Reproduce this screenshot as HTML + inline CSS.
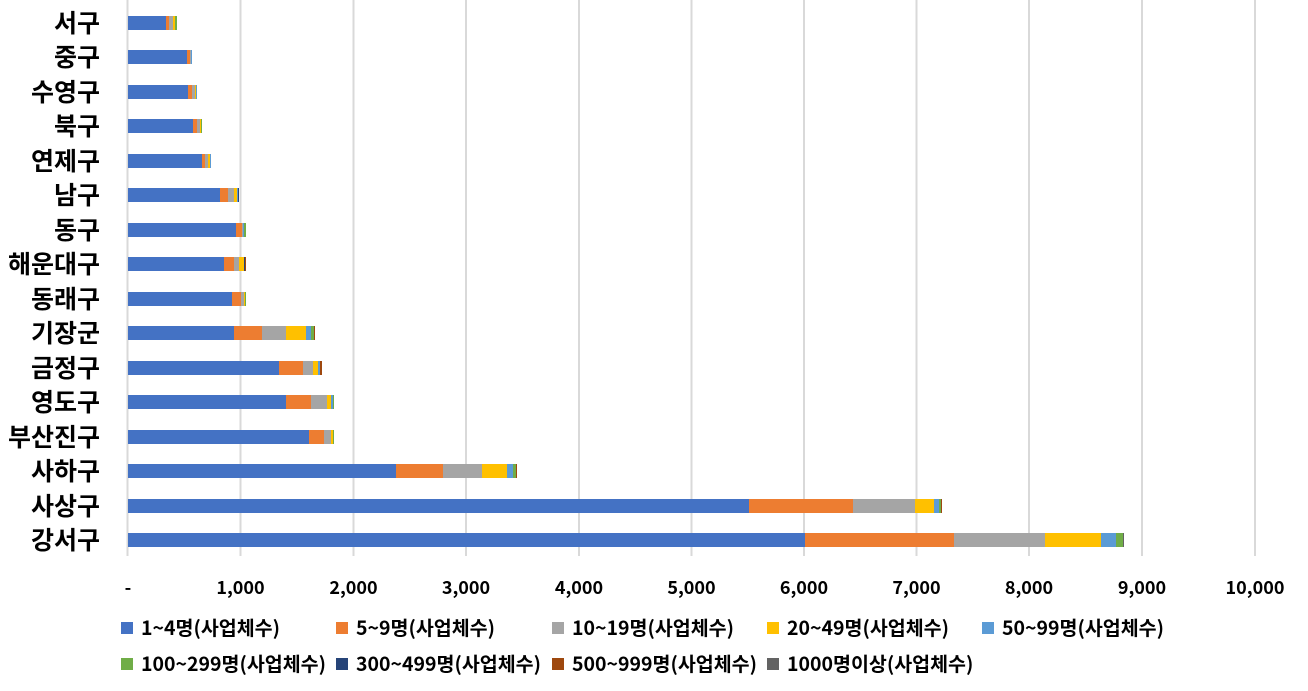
<!DOCTYPE html>
<html><head><meta charset="utf-8"><style>
html,body{margin:0;padding:0;background:#fff;}
svg{display:block;font-family:"Noto Sans CJK KR",sans-serif;}
</style></head><body>
<svg width="1308" height="691" viewBox="0 0 1308 691" xmlns="http://www.w3.org/2000/svg">
<g stroke="#d9d9d9" stroke-width="2">
<line x1="127.5" y1="0" x2="127.5" y2="556"/>
<line x1="240.5" y1="0" x2="240.5" y2="556"/>
<line x1="353.5" y1="0" x2="353.5" y2="556"/>
<line x1="466" y1="0" x2="466" y2="556"/>
<line x1="579" y1="0" x2="579" y2="556"/>
<line x1="691.5" y1="0" x2="691.5" y2="556"/>
<line x1="804" y1="0" x2="804" y2="556"/>
<line x1="916.5" y1="0" x2="916.5" y2="556"/>
<line x1="1029" y1="0" x2="1029" y2="556"/>
<line x1="1142" y1="0" x2="1142" y2="556"/>
<line x1="1255" y1="0" x2="1255" y2="556"/>
</g>
<g>
<rect x="128" y="16" width="38" height="14" fill="#4472c4"/><rect x="166" y="16" width="3" height="14" fill="#ed7d31"/><rect x="169" y="16" width="4" height="14" fill="#a5a5a5"/><rect x="173" y="16" width="2" height="14" fill="#ffc000"/><rect x="175" y="16" width="2" height="14" fill="#70ad47"/>
<rect x="128" y="50" width="59" height="14" fill="#4472c4"/><rect x="187" y="50" width="3" height="14" fill="#ed7d31"/><rect x="190" y="50" width="1" height="14" fill="#a5a5a5"/><rect x="191" y="50" width="1" height="14" fill="#5b9bd5"/>
<rect x="128" y="85" width="60" height="14" fill="#4472c4"/><rect x="188" y="85" width="4" height="14" fill="#ed7d31"/><rect x="192" y="85" width="3" height="14" fill="#a5a5a5"/><rect x="195" y="85" width="1" height="14" fill="#ffc000"/><rect x="196" y="85" width="1" height="14" fill="#5b9bd5"/>
<rect x="128" y="119" width="65" height="14" fill="#4472c4"/><rect x="193" y="119" width="4" height="14" fill="#ed7d31"/><rect x="197" y="119" width="3" height="14" fill="#a5a5a5"/><rect x="200" y="119" width="1" height="14" fill="#ffc000"/><rect x="201" y="119" width="1" height="14" fill="#70ad47"/>
<rect x="128" y="154" width="74" height="14" fill="#4472c4"/><rect x="202" y="154" width="3" height="14" fill="#ed7d31"/><rect x="205" y="154" width="3" height="14" fill="#a5a5a5"/><rect x="208" y="154" width="2" height="14" fill="#ffc000"/><rect x="210" y="154" width="1" height="14" fill="#5b9bd5"/>
<rect x="128" y="188" width="92" height="14" fill="#4472c4"/><rect x="220" y="188" width="8" height="14" fill="#ed7d31"/><rect x="228" y="188" width="6" height="14" fill="#a5a5a5"/><rect x="234" y="188" width="3" height="14" fill="#ffc000"/><rect x="237" y="188" width="1" height="14" fill="#5b9bd5"/><rect x="238" y="188" width="1" height="14" fill="#264478"/>
<rect x="128" y="223" width="108" height="14" fill="#4472c4"/><rect x="236" y="223" width="6" height="14" fill="#ed7d31"/><rect x="242" y="223" width="1" height="14" fill="#a5a5a5"/><rect x="243" y="223" width="1" height="14" fill="#5b9bd5"/><rect x="244" y="223" width="2" height="14" fill="#70ad47"/>
<rect x="128" y="257" width="96" height="14" fill="#4472c4"/><rect x="224" y="257" width="10" height="14" fill="#ed7d31"/><rect x="234" y="257" width="5" height="14" fill="#a5a5a5"/><rect x="239" y="257" width="5" height="14" fill="#ffc000"/><rect x="244" y="257" width="1" height="14" fill="#264478"/><rect x="245" y="257" width="1" height="14" fill="#9e480e"/>
<rect x="128" y="292" width="104" height="14" fill="#4472c4"/><rect x="232" y="292" width="9" height="14" fill="#ed7d31"/><rect x="241" y="292" width="3" height="14" fill="#a5a5a5"/><rect x="244" y="292" width="1" height="14" fill="#ffc000"/><rect x="245" y="292" width="1" height="14" fill="#70ad47"/>
<rect x="128" y="326" width="106" height="14" fill="#4472c4"/><rect x="234" y="326" width="28" height="14" fill="#ed7d31"/><rect x="262" y="326" width="24" height="14" fill="#a5a5a5"/><rect x="286" y="326" width="20" height="14" fill="#ffc000"/><rect x="306" y="326" width="5" height="14" fill="#5b9bd5"/><rect x="311" y="326" width="3" height="14" fill="#70ad47"/><rect x="314" y="326" width="1" height="14" fill="#9e480e"/>
<rect x="128" y="361" width="151" height="14" fill="#4472c4"/><rect x="279" y="361" width="24" height="14" fill="#ed7d31"/><rect x="303" y="361" width="10" height="14" fill="#a5a5a5"/><rect x="313" y="361" width="5" height="14" fill="#ffc000"/><rect x="318" y="361" width="2" height="14" fill="#5b9bd5"/><rect x="320" y="361" width="2" height="14" fill="#9e480e"/>
<rect x="128" y="395" width="158" height="14" fill="#4472c4"/><rect x="286" y="395" width="25" height="14" fill="#ed7d31"/><rect x="311" y="395" width="16" height="14" fill="#a5a5a5"/><rect x="327" y="395" width="4" height="14" fill="#ffc000"/><rect x="331" y="395" width="2" height="14" fill="#5b9bd5"/><rect x="333" y="395" width="1" height="14" fill="#70ad47"/>
<rect x="128" y="430" width="181" height="14" fill="#4472c4"/><rect x="309" y="430" width="15" height="14" fill="#ed7d31"/><rect x="324" y="430" width="7" height="14" fill="#a5a5a5"/><rect x="331" y="430" width="2" height="14" fill="#ffc000"/><rect x="333" y="430" width="1" height="14" fill="#70ad47"/>
<rect x="128" y="464" width="268" height="14" fill="#4472c4"/><rect x="396" y="464" width="47" height="14" fill="#ed7d31"/><rect x="443" y="464" width="39" height="14" fill="#a5a5a5"/><rect x="482" y="464" width="25" height="14" fill="#ffc000"/><rect x="507" y="464" width="6" height="14" fill="#5b9bd5"/><rect x="513" y="464" width="3" height="14" fill="#70ad47"/><rect x="516" y="464" width="1" height="14" fill="#9e480e"/>
<rect x="128" y="499" width="621" height="14" fill="#4472c4"/><rect x="749" y="499" width="104" height="14" fill="#ed7d31"/><rect x="853" y="499" width="62" height="14" fill="#a5a5a5"/><rect x="915" y="499" width="19" height="14" fill="#ffc000"/><rect x="934" y="499" width="5" height="14" fill="#5b9bd5"/><rect x="939" y="499" width="2" height="14" fill="#70ad47"/><rect x="941" y="499" width="1" height="14" fill="#9e480e"/>
<rect x="128" y="533" width="677" height="14" fill="#4472c4"/><rect x="805" y="533" width="149" height="14" fill="#ed7d31"/><rect x="954" y="533" width="91" height="14" fill="#a5a5a5"/><rect x="1045" y="533" width="56" height="14" fill="#ffc000"/><rect x="1101" y="533" width="15" height="14" fill="#5b9bd5"/><rect x="1116" y="533" width="7" height="14" fill="#70ad47"/><rect x="1123" y="533" width="1" height="14" fill="#636363"/>
</g>
<g font-size="25" font-weight="bold" text-anchor="end" fill="#000">
<text x="100" y="32">서구</text>
<text x="100" y="66">중구</text>
<text x="100" y="101">수영구</text>
<text x="100" y="135">북구</text>
<text x="100" y="170">연제구</text>
<text x="100" y="204">남구</text>
<text x="100" y="239">동구</text>
<text x="100" y="273">해운대구</text>
<text x="100" y="308">동래구</text>
<text x="100" y="342">기장군</text>
<text x="100" y="377">금정구</text>
<text x="100" y="411">영도구</text>
<text x="100" y="446">부산진구</text>
<text x="100" y="480">사하구</text>
<text x="100" y="515">사상구</text>
<text x="100" y="549">강서구</text>
</g>
<g font-size="18" font-weight="bold" text-anchor="middle" fill="#000">
<text x="128" y="594">-</text>
<text x="240.5" y="594">1,000</text>
<text x="353.5" y="594">2,000</text>
<text x="466" y="594">3,000</text>
<text x="579" y="594">4,000</text>
<text x="691.5" y="594">5,000</text>
<text x="804" y="594">6,000</text>
<text x="916.5" y="594">7,000</text>
<text x="1029" y="594">8,000</text>
<text x="1142" y="594">9,000</text>
<text x="1255" y="594">10,000</text>
</g>
<g font-size="19.5" font-weight="bold" fill="#000">
<rect x="121" y="622" width="12" height="12" fill="#4472c4"/><text x="141" y="635">1~4명(사업체수)</text>
<rect x="336" y="622" width="12" height="12" fill="#ed7d31"/><text x="356" y="635">5~9명(사업체수)</text>
<rect x="552" y="622" width="12" height="12" fill="#a5a5a5"/><text x="572" y="635">10~19명(사업체수)</text>
<rect x="767" y="622" width="12" height="12" fill="#ffc000"/><text x="787" y="635">20~49명(사업체수)</text>
<rect x="982" y="622" width="12" height="12" fill="#5b9bd5"/><text x="1002" y="635">50~99명(사업체수)</text>
<rect x="121" y="658" width="12" height="12" fill="#70ad47"/><text x="141" y="671">100~299명(사업체수)</text>
<rect x="336" y="658" width="12" height="12" fill="#264478"/><text x="356" y="671">300~499명(사업체수)</text>
<rect x="552" y="658" width="12" height="12" fill="#9e480e"/><text x="572" y="671">500~999명(사업체수)</text>
<rect x="767" y="658" width="12" height="12" fill="#636363"/><text x="787" y="671">1000명이상(사업체수)</text>
</g>
</svg>
</body></html>
